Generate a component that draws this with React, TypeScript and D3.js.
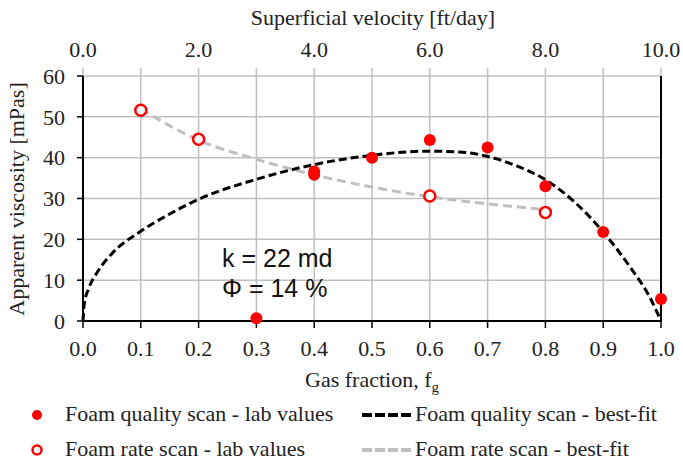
import React from "react"
import * as d3 from "d3"

const width = 683
const height = 461
const margin = { left: 83, right: 22, top: 76, bottom: 140 }
const serif = "Liberation Serif, DejaVu Serif, Noto Serif, serif"
const sans = "Liberation Sans, Arial, sans-serif"

// foam quality scan, lab values (filled markers)
const qualityX = [0.3, 0.4, 0.4, 0.5, 0.6, 0.7, 0.8, 0.9, 1.0]
const qualityY = [0.7, 35.8, 36.6, 40.0, 44.3, 42.5, 33.0, 21.8, 5.4]

// foam rate scan, lab values (open markers)
const rateX = [0.1, 0.2, 0.6, 0.8]
const rateY = [51.6, 44.5, 30.6, 26.6]

// best-fit curves
const qualityFitX = [0, 0.002, 0.01, 0.025, 0.05, 0.1, 0.15, 0.2, 0.3, 0.4, 0.5, 0.6, 0.65, 0.7, 0.75, 0.8, 0.85, 0.9, 0.95, 0.98, 1.0]
const qualityFitY = [0, 4, 8, 12, 16.5, 22, 26.2, 29.8, 34.7, 38.3, 40.6, 41.6, 41.4, 40.3, 38, 34.6, 29.2, 21.8, 12.5, 6, 0]
const rateFitX = [0.1, 0.15, 0.2, 0.3, 0.4, 0.5, 0.6, 0.7, 0.8]
const rateFitY = [52, 47.8, 44.3, 39.6, 35.8, 32.8, 30.4, 28.7, 27.3]

const xTicks = [0, 0.1, 0.2, 0.3, 0.4, 0.5, 0.6, 0.7, 0.8, 0.9, 1.0]
const topLabels = [0, 2, 4, 6, 8, 10]
const yTicks = [0, 10, 20, 30, 40, 50, 60]

const x = d3.scaleLinear().domain([0, 1]).range([margin.left, width - margin.right])
const xTop = d3.scaleLinear().domain([0, 10]).range([margin.left, width - margin.right])
const y = d3.scaleLinear().domain([0, 60]).range([height - margin.bottom, margin.top])

const qualityPath = d3.line<number>().curve(d3.curveMonotoneX)
  .x(i => x(qualityFitX[i])).y(i => y(qualityFitY[i]))(qualityFitX.map((_, i) => i))
const ratePath = d3.line<number>().curve(d3.curveMonotoneX)
  .x(i => x(rateFitX[i])).y(i => y(rateFitY[i]))(rateFitX.map((_, i) => i))

const gridColor = "#c0c0c0"
const red = "#ff0000"

const App = () => {
  const x0 = x(0), x1 = x(1), y0 = y(0), y1 = y(60)
  return (
    <div style={{ position: "fixed", left: 0, top: 0 }}>
      <svg width={width} height={height} style={{ display: "block", background: "#fff" }}>
        {/* grid */}
        {xTicks.map(t => (
          <line key={"gx" + t} x1={x(t)} x2={x(t)} y1={y1 - 8} y2={y0} stroke={gridColor} strokeWidth={1.5} />
        ))}
        {yTicks.map(t => (
          <line key={"gy" + t} x1={x0} x2={x1} y1={y(t)} y2={y(t)} stroke={gridColor} strokeWidth={1.5} />
        ))}

        {/* axes */}
        <line x1={x0} x2={x0} y1={y1} y2={y0} stroke="#000" strokeWidth={2} />
        <line x1={x1} x2={x1} y1={y1} y2={y0} stroke="#000" strokeWidth={2} />
        <line x1={x0 - 1} x2={x1 + 1} y1={y0} y2={y0} stroke="#000" strokeWidth={2} />
        {yTicks.map(t => (
          <line key={"ty" + t} x1={x0 - 6} x2={x0} y1={y(t)} y2={y(t)} stroke="#000" strokeWidth={1.5} />
        ))}
        {xTicks.map(t => (
          <line key={"tx" + t} x1={x(t)} x2={x(t)} y1={y0} y2={y0 + 7} stroke="#000" strokeWidth={1.5} />
        ))}

        {/* tick labels and titles */}
        <g style={{ fontFamily: serif }} fontSize={22} fill="#222">
          {yTicks.map(t => (
            <text key={"ly" + t} x={x0 - 18} y={y(t)} dy="0.35em" textAnchor="end">{t}</text>
          ))}
          {xTicks.map(t => (
            <text key={"lx" + t} x={x(t)} y={356} textAnchor="middle">{d3.format(".1f")(t)}</text>
          ))}
          {topLabels.map(t => (
            <text key={"lt" + t} x={xTop(t)} y={57} textAnchor="middle">{d3.format(".1f")(t)}</text>
          ))}
          <text x={373} y={25} textAnchor="middle">Superficial velocity [ft/day]</text>
          <text x={372} y={387} textAnchor="middle">
            Gas fraction, f<tspan fontSize={15} dy={5}>g</tspan>
          </text>
          <text transform="translate(24,199) rotate(-90)" textAnchor="middle">Apparent viscosity [mPas]</text>
        </g>

        {/* fits */}
        <path d={ratePath ?? ""} fill="none" stroke="#bfbfbf" strokeWidth={3} strokeDasharray="9,5" />
        <path d={qualityPath ?? ""} fill="none" stroke="#000" strokeWidth={3} strokeDasharray="8,4" />

        {/* markers */}
        {rateX.map((v, i) => (
          <circle key={"r" + i} cx={x(v)} cy={y(rateY[i])} r={5.5} fill="#fff" stroke={red} strokeWidth={2.5} />
        ))}
        {qualityX.map((v, i) => (
          <circle key={"q" + i} cx={x(v)} cy={y(qualityY[i])} r={6} fill={red} />
        ))}

        {/* annotation */}
        <g style={{ fontFamily: sans }} fontSize={25} fill="#111">
          <text x={222} y={267}>k = 22 md</text>
          <text x={222} y={297}>Φ = 14 %</text>
        </g>

        {/* legend */}
        <g style={{ fontFamily: serif }} fontSize={22} fill="#222">
          <circle cx={37} cy={415} r={5} fill={red} />
          <text x={65} y={421}>Foam quality scan - lab values</text>
          <line x1={362} x2={412} y1={415} y2={415} stroke="#000" strokeWidth={4} strokeDasharray="10,3" />
          <text x={415} y={421}>Foam quality scan - best-fit</text>
          <circle cx={37} cy={450} r={4.5} fill="#fff" stroke={red} strokeWidth={2.5} />
          <text x={65} y={456}>Foam rate scan - lab values</text>
          <line x1={362} x2={412} y1={450} y2={450} stroke="#bfbfbf" strokeWidth={4} strokeDasharray="10,3" />
          <text x={415} y={456}>Foam rate scan - best-fit</text>
        </g>
      </svg>
    </div>
  )
}

export default App
